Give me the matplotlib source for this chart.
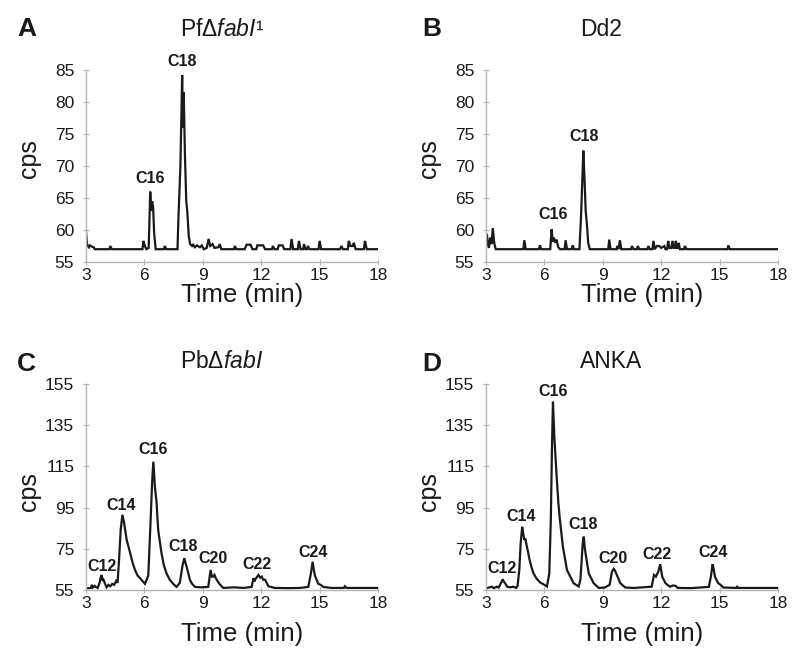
#!/usr/bin/env python3
"""
Cromatogramas de ácidos grasos (4 paneles): PfΔfabI, Dd2, PbΔfabI, ANKA.
"""

import matplotlib
matplotlib.use("Agg")
import matplotlib.pyplot as plt

plt.rcParams["font.family"] = ["Liberation Sans", "DejaVu Sans"]
plt.rcParams["mathtext.fontset"] = "custom"
plt.rcParams["mathtext.rm"] = "Liberation Sans"
plt.rcParams["mathtext.it"] = "Liberation Sans:italic"
plt.rcParams["mathtext.bf"] = "Liberation Sans:bold"

# ---------------- datos ----------------
X_TICKS = [3, 6, 9, 12, 15, 18]
Y_TICKS_TOP = [55, 60, 65, 70, 75, 80, 85]
Y_TICKS_BOTTOM = [55, 75, 95, 115, 135, 155]

# Panel A: PfΔfabI
time_a = [3.00, 3.05, 3.10, 3.15, 3.20, 3.30, 3.40, 3.45,
          4.20, 4.25, 4.32,
          5.90, 5.95, 6.02, 6.10,
          6.22, 6.30, 6.35, 6.40, 6.45, 6.50, 6.58,
          7.00, 7.05, 7.12,
          7.70, 7.75, 7.85, 7.94, 7.98, 8.02, 8.08, 8.15, 8.20, 8.28, 8.35,
          8.45, 8.50, 8.60, 8.70, 8.85, 8.95, 9.05,
          9.20, 9.30, 9.38, 9.50, 9.60, 9.80, 9.87, 9.95,
          10.60, 10.65, 10.72,
          11.15, 11.25, 11.45, 11.55,
          11.75, 11.80, 12.10, 12.20,
          12.55, 12.60, 12.68, 12.85, 12.90, 13.10, 13.18,
          13.50, 13.56, 13.64,
          13.88, 13.94, 14.02, 14.15, 14.20, 14.27, 14.35, 14.40, 14.48,
          14.95, 15.00, 15.08,
          16.05, 16.12, 16.20,
          16.45, 16.50, 16.58, 16.70, 16.76, 16.85,
          17.27, 17.33, 17.42,
          18.00]
cps_a = [59.8, 57.8, 57.5, 57.3, 57.6, 57.4, 57.3, 57.0,
         57.0, 57.5, 57.0,
         57.0, 58.3, 57.5, 57.0,
         57.2, 66.0, 63.0, 64.5, 63.5, 59.5, 57.0,
         57.0, 57.5, 57.0,
         57.0, 62.0, 70.0, 84.2, 76.0, 81.5, 72.0, 64.5, 63.0, 59.0, 57.8,
         57.5, 57.7, 57.3, 57.6, 57.3, 57.6, 57.0,
         57.2, 58.6, 57.5, 57.8, 57.2, 57.3, 57.8, 57.0,
         57.0, 57.5, 57.0,
         57.0, 57.7, 57.7, 57.0,
         57.0, 57.6, 57.6, 57.0,
         57.0, 57.5, 57.0, 57.0, 57.6, 57.6, 57.0,
         57.0, 58.6, 57.0,
         57.0, 58.3, 57.0, 57.0, 57.8, 57.0, 57.0, 57.5, 57.0,
         57.0, 58.3, 57.0,
         57.0, 57.5, 57.0,
         57.0, 58.3, 57.5, 57.5, 58.0, 57.0,
         57.0, 58.3, 57.0,
         57.0]

# Panel B: Dd2
time_b = [3.00, 3.04, 3.10, 3.15, 3.22, 3.28, 3.35, 3.42, 3.50,
          4.92, 4.97, 5.04,
          5.72, 5.77, 5.84,
          6.30, 6.37, 6.43, 6.49, 6.56, 6.63, 6.70, 6.80,
          7.04, 7.09, 7.16,
          7.40, 7.45, 7.52,
          7.80, 7.88, 7.95, 8.00, 8.06, 8.12, 8.18, 8.25, 8.33,
          9.28, 9.33, 9.40,
          9.70, 9.75, 9.80, 9.88, 9.95,
          10.45, 10.50, 10.57, 10.75, 10.80, 10.87,
          11.29, 11.34, 11.41, 11.55, 11.60, 11.67, 11.78, 11.90, 12.00, 12.16, 12.22,
          12.30, 12.36, 12.42, 12.52, 12.58, 12.64, 12.70, 12.75, 12.81, 12.86, 12.90, 12.96,
          13.17, 13.22, 13.29,
          15.40, 15.45, 15.52,
          18.00]
cps_b = [57.5, 59.4, 58.0, 57.2, 58.8, 57.8, 60.3, 58.0, 57.0,
         57.0, 58.4, 57.0,
         57.0, 57.6, 57.0,
         57.0, 60.1, 58.2, 58.8, 58.0, 58.5, 57.4, 57.0,
         57.0, 58.4, 57.0,
         57.0, 57.6, 57.0,
         57.0, 62.0, 68.0, 72.4, 68.0, 63.0, 61.0, 58.0, 57.0,
         57.0, 58.5, 57.0,
         57.0, 57.5, 57.0, 58.4, 57.0,
         57.0, 57.5, 57.0, 57.0, 57.5, 57.0,
         57.0, 57.5, 57.0, 57.0, 58.3, 57.0, 57.5, 57.5, 57.2, 57.5, 57.0,
         57.0, 58.3, 57.2, 57.2, 58.3, 57.2, 57.2, 58.3, 57.2, 57.2, 58.0, 57.0,
         57.0, 57.5, 57.0,
         57.0, 57.6, 57.0,
         57.0]

# Panel C: PbΔfabI
time_c = [3.00, 3.25, 3.30, 3.35, 3.45, 3.50, 3.60,
          3.70, 3.75, 3.80, 3.85, 3.90, 4.00, 4.06,
          4.15, 4.25, 4.35, 4.45, 4.55, 4.62,
          4.70, 4.78, 4.87, 4.95, 5.09, 5.26, 5.40, 5.52, 5.65, 5.78, 6.03,
          6.20, 6.32, 6.40, 6.46, 6.54, 6.62, 6.71, 6.88, 7.00, 7.14, 7.30, 7.48, 7.65,
          7.82, 7.96, 8.05, 8.10, 8.17, 8.34, 8.45, 8.60,
          8.90, 9.28, 9.40, 9.47, 9.54, 9.60, 9.68, 9.85, 10.05,
          10.60, 11.10, 11.51, 11.60, 11.66, 11.72, 11.86, 11.95, 12.03, 12.10, 12.20, 12.37,
          12.70, 13.40, 14.00, 14.42, 14.56, 14.64, 14.70, 14.76, 14.93, 15.05, 15.19,
          15.60, 16.25, 16.30, 16.38, 17.00, 18.00]
cps_c = [55.8, 56.0, 57.5, 56.2, 57.0, 56.5, 56.0,
         58.5, 61.0, 62.3, 59.5, 60.0, 57.5, 56.3,
         57.5, 56.8, 58.0, 57.5, 59.4, 58.5,
         70.0, 84.0, 91.5, 88.0, 79.3, 73.3, 68.0, 64.7, 62.0, 60.7, 58.0,
         62.0, 89.0, 108.0, 117.3, 105.0, 98.0, 84.0, 72.8, 67.0, 63.0, 60.0, 58.0, 56.5,
         58.5, 67.0, 70.4, 68.5, 66.3, 59.9, 58.0, 56.5,
         56.3, 56.5, 64.7, 61.5, 61.5, 62.3, 60.5, 58.0, 56.0,
         56.3, 56.0, 56.5, 60.7, 59.2, 60.5, 62.3, 61.0, 61.5, 60.0, 60.0, 56.8,
         56.0, 55.9, 56.0, 56.5, 63.5, 68.7, 65.0, 62.0, 58.0, 57.5, 56.5,
         56.0, 56.0, 56.8, 56.0, 56.0, 56.0]

# Panel D: ANKA
time_d = [3.00, 3.30, 3.40, 3.55, 3.65,
          3.75, 3.86, 3.92, 3.98, 4.10,
          4.25, 4.40, 4.55, 4.62,
          4.71, 4.78, 4.86, 4.92, 4.97, 5.02, 5.10, 5.17, 5.24, 5.34, 5.44, 5.60, 5.79, 6.00, 6.13,
          6.25, 6.33, 6.39, 6.44, 6.51, 6.58, 6.64, 6.72, 6.78, 6.95, 7.16, 7.50, 7.76,
          7.85, 7.97, 8.02, 8.08, 8.14, 8.28, 8.53, 8.79,
          9.10, 9.35, 9.47, 9.56, 9.62, 9.73, 9.90, 10.15,
          10.60, 11.05, 11.51, 11.63, 11.73, 11.85, 11.95, 12.05, 12.22, 12.45, 12.60, 12.74, 12.85,
          13.50, 14.45, 14.56, 14.64, 14.70, 14.76, 14.93, 15.05, 15.19,
          15.85, 15.90, 15.96, 18.00]
cps_d = [55.8, 56.6, 55.9, 56.6, 56.2,
         58.0, 60.2, 59.0, 58.3, 56.5,
         56.3, 56.6, 56.0, 57.0,
         64.7, 77.6, 85.7, 82.0, 79.3, 80.0, 76.0, 73.0, 69.6, 66.0, 63.1, 60.5, 58.6, 57.5, 56.7,
         63.0, 89.0, 125.0, 146.4, 129.4, 118.0, 108.4, 97.0, 90.6, 76.0, 64.7, 58.3, 56.7,
         60.0, 77.7, 80.9, 75.0, 71.2, 63.0, 58.3, 56.0,
         56.2, 57.5, 63.9, 65.3, 64.5, 62.1, 58.3, 56.2,
         56.0, 56.3, 56.6, 62.3, 61.5, 63.9, 67.5, 61.5, 58.3, 56.6, 57.2, 57.0, 56.0,
         55.9, 56.5, 62.0, 67.5, 65.0, 61.5, 58.3, 57.5, 56.2,
         56.0, 56.6, 56.0, 56.0]

# etiquetas de picos (tiempo, cps)
peaks_a = [("C16", 6.29, 68.1), ("C18", 7.92, 86.3)]
peaks_b = [("C16", 6.43, 62.4), ("C18", 8.06, 74.6)]
peaks_c = [("C12", 3.80, 66.3), ("C14", 4.83, 95.8), ("C16", 6.46, 123.0),
           ("C18", 8.00, 76.0), ("C20", 9.54, 70.4), ("C22", 11.80, 67.6),
           ("C24", 14.64, 73.3)]
peaks_d = [("C12", 3.84, 65.5), ("C14", 4.83, 90.6), ("C16", 6.46, 151.3),
           ("C18", 8.00, 86.6), ("C20", 9.54, 70.4), ("C22", 11.80, 72.0),
           ("C24", 14.64, 73.3)]

W, H = 800, 666
SPINE = "#b4b4b4"
INK = "#1a1a1a"


def setup_axes(ax, yticks, x_label_y, y_label_y):
    ax.set_xlim(3, 18)
    ax.set_ylim(yticks[0], yticks[-1])
    ax.set_xticks(X_TICKS)
    ax.set_yticks(yticks)
    for side in ("top", "right"):
        ax.spines[side].set_visible(False)
    for side in ("left", "bottom"):
        ax.spines[side].set_color(SPINE)
        ax.spines[side].set_linewidth(1.0)
    ax.tick_params(axis="both", direction="inout", length=5, width=0.8,
                   color=SPINE, labelsize=12.5, labelcolor=INK)
    ax.tick_params(axis="x", pad=2)
    ax.tick_params(axis="y", pad=6)
    ax.set_xlabel("Time (min)", fontsize=18.5, color=INK)
    ax.set_ylabel("cps", fontsize=18, color=INK)
    ax.xaxis.set_label_coords(0.534, x_label_y)
    ax.yaxis.set_label_coords(-0.195, y_label_y)
    ax.xaxis.label.set_va("center")
    ax.yaxis.label.set_va("center")


def draw_panel(rect, times, cps, peaks, yticks, x_label_y, y_label_y):
    ax = fig.add_axes(rect)
    ax.plot(times, cps, color=INK, linewidth=1.6, solid_joinstyle="miter")
    for label, t, y in peaks:
        ax.text(t, y, label, ha="center", va="center", fontsize=11.5,
                fontweight="bold", color=INK, clip_on=False)
    setup_axes(ax, yticks, x_label_y, y_label_y)
    return ax


fig = plt.figure(figsize=(W / 100, H / 100), dpi=100)

top_rect_h = 192 / H
bot_rect_h = 206 / H
draw_panel([86 / W, 1 - 262 / H, 292 / W, top_rect_h], time_a, cps_a, peaks_a,
           Y_TICKS_TOP, -0.17, 0.54)
draw_panel([486 / W, 1 - 262 / H, 292 / W, top_rect_h], time_b, cps_b, peaks_b,
           Y_TICKS_TOP, -0.17, 0.54)
draw_panel([86 / W, 1 - 590 / H, 292 / W, bot_rect_h], time_c, cps_c, peaks_c,
           Y_TICKS_BOTTOM, -0.215, 0.48)
draw_panel([486 / W, 1 - 590 / H, 292 / W, bot_rect_h], time_d, cps_d, peaks_d,
           Y_TICKS_BOTTOM, -0.215, 0.48)

# letras de panel y títulos
letters = [("A", 17, 29), ("B", 422, 29), ("C", 17, 364), ("D", 422, 364)]
for letter, px, py in letters:
    fig.text(px / W, 1 - py / H, letter, ha="left", va="center",
             fontsize=19, fontweight="bold", color=INK)

titles = [("Pf\u0394$\\mathit{fabI}$\u00b9", 180, 30),
          ("Dd2", 580, 30),
          ("Pb\u0394$\\mathit{fabI}$", 180, 362),
          ("ANKA", 580, 362)]
for title, px, py in titles:
    fig.text(px / W, 1 - py / H, title, ha="left", va="center",
             fontsize=16.5, color=INK)

fig.savefig("out.png", dpi=100)
